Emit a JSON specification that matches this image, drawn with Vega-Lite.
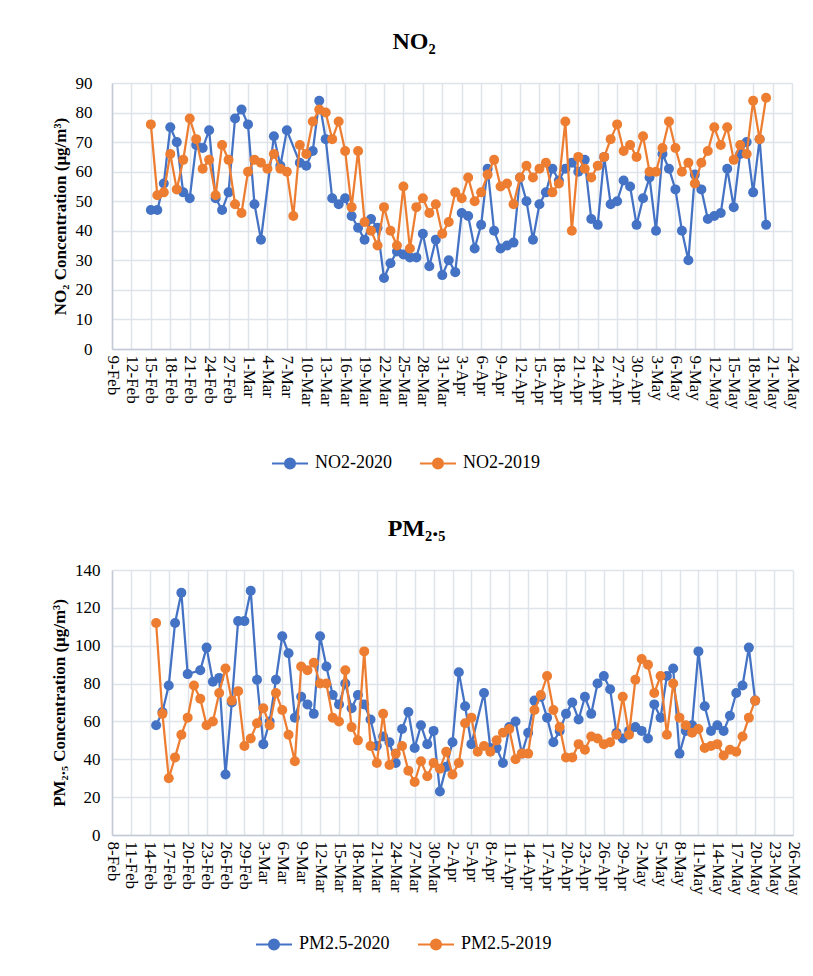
{
  "$schema": "https://vega.github.io/schema/vega-lite/v6.json",
  "background": "white",
  "padding": {"left": 50, "top": 30, "right": 0, "bottom": 0},
  "spacing": 44,
  "resolve": {"scale": {"color": "independent"}, "legend": {"color": "independent"}},
  "config": {
    "font": "Liberation Serif",
    "view": {"stroke": null},
    "axis": {"labelFont": "Liberation Serif", "labelFontSize": 17, "labelColor": "#000000", "titleFont": "Liberation Serif", "titleFontSize": 17, "titleFontWeight": "bold", "titleColor": "#000000", "gridColor": "#dfe3ea", "gridWidth": 1.5, "domainColor": "#c3cad6", "domainWidth": 1.5, "ticks": false},
    "legend": {"orient": "none", "direction": "horizontal", "title": null, "symbolType": "M-1,0L1,0M0.28,0A0.28,0.28,0,1,1,-0.28,0A0.28,0.28,0,1,1,0.28,0Z", "symbolSize": 1296, "symbolStrokeWidth": 2, "labelFont": "Liberation Serif", "labelFontSize": 18, "labelColor": "#000000", "labelOffset": 6, "columnPadding": 24},
    "title": {"font": "Liberation Serif", "fontSize": 24, "fontWeight": "bold", "color": "#000000", "anchor": "middle", "offset": 20}
  },
  "datasets": {
    "no2": [
      {"date":"2020-02-15","series":"NO2-2020","value":47},{"date":"2020-02-16","series":"NO2-2020","value":47},{"date":"2020-02-17","series":"NO2-2020","value":56},{"date":"2020-02-18","series":"NO2-2020","value":75},{"date":"2020-02-19","series":"NO2-2020","value":70},{"date":"2020-02-20","series":"NO2-2020","value":53},{"date":"2020-02-21","series":"NO2-2020","value":51},{"date":"2020-02-22","series":"NO2-2020","value":69},{"date":"2020-02-23","series":"NO2-2020","value":68},{"date":"2020-02-24","series":"NO2-2020","value":74},{"date":"2020-02-25","series":"NO2-2020","value":51},{"date":"2020-02-26","series":"NO2-2020","value":47},{"date":"2020-02-27","series":"NO2-2020","value":53},{"date":"2020-02-28","series":"NO2-2020","value":78},{"date":"2020-02-29","series":"NO2-2020","value":81},
      {"date":"2020-03-01","series":"NO2-2020","value":76},{"date":"2020-03-02","series":"NO2-2020","value":49},{"date":"2020-03-03","series":"NO2-2020","value":37},{"date":"2020-03-05","series":"NO2-2020","value":72},{"date":"2020-03-06","series":"NO2-2020","value":62},{"date":"2020-03-07","series":"NO2-2020","value":74},{"date":"2020-03-09","series":"NO2-2020","value":63},{"date":"2020-03-10","series":"NO2-2020","value":62},{"date":"2020-03-11","series":"NO2-2020","value":67},{"date":"2020-03-12","series":"NO2-2020","value":84},{"date":"2020-03-13","series":"NO2-2020","value":71},{"date":"2020-03-14","series":"NO2-2020","value":51},{"date":"2020-03-15","series":"NO2-2020","value":49},{"date":"2020-03-16","series":"NO2-2020","value":51},{"date":"2020-03-17","series":"NO2-2020","value":45},{"date":"2020-03-18","series":"NO2-2020","value":41},{"date":"2020-03-19","series":"NO2-2020","value":37},{"date":"2020-03-20","series":"NO2-2020","value":44},{"date":"2020-03-21","series":"NO2-2020","value":41},{"date":"2020-03-22","series":"NO2-2020","value":24},{"date":"2020-03-23","series":"NO2-2020","value":29},{"date":"2020-03-24","series":"NO2-2020","value":33},{"date":"2020-03-25","series":"NO2-2020","value":32},{"date":"2020-03-26","series":"NO2-2020","value":31},{"date":"2020-03-27","series":"NO2-2020","value":31},{"date":"2020-03-28","series":"NO2-2020","value":39},{"date":"2020-03-29","series":"NO2-2020","value":28},{"date":"2020-03-30","series":"NO2-2020","value":37},{"date":"2020-03-31","series":"NO2-2020","value":25},
      {"date":"2020-04-01","series":"NO2-2020","value":30},{"date":"2020-04-02","series":"NO2-2020","value":26},{"date":"2020-04-03","series":"NO2-2020","value":46},{"date":"2020-04-04","series":"NO2-2020","value":45},{"date":"2020-04-05","series":"NO2-2020","value":34},{"date":"2020-04-06","series":"NO2-2020","value":42},{"date":"2020-04-07","series":"NO2-2020","value":61},{"date":"2020-04-08","series":"NO2-2020","value":40},{"date":"2020-04-09","series":"NO2-2020","value":34},{"date":"2020-04-10","series":"NO2-2020","value":35},{"date":"2020-04-11","series":"NO2-2020","value":36},{"date":"2020-04-12","series":"NO2-2020","value":58},{"date":"2020-04-13","series":"NO2-2020","value":50},{"date":"2020-04-14","series":"NO2-2020","value":37},{"date":"2020-04-15","series":"NO2-2020","value":49},{"date":"2020-04-16","series":"NO2-2020","value":53},{"date":"2020-04-17","series":"NO2-2020","value":61},{"date":"2020-04-18","series":"NO2-2020","value":57},{"date":"2020-04-19","series":"NO2-2020","value":61},{"date":"2020-04-20","series":"NO2-2020","value":63},{"date":"2020-04-21","series":"NO2-2020","value":60},{"date":"2020-04-22","series":"NO2-2020","value":64},{"date":"2020-04-23","series":"NO2-2020","value":44},{"date":"2020-04-24","series":"NO2-2020","value":42},{"date":"2020-04-25","series":"NO2-2020","value":65},{"date":"2020-04-26","series":"NO2-2020","value":49},{"date":"2020-04-27","series":"NO2-2020","value":50},{"date":"2020-04-28","series":"NO2-2020","value":57},{"date":"2020-04-29","series":"NO2-2020","value":55},{"date":"2020-04-30","series":"NO2-2020","value":42},
      {"date":"2020-05-01","series":"NO2-2020","value":51},{"date":"2020-05-02","series":"NO2-2020","value":58},{"date":"2020-05-03","series":"NO2-2020","value":40},{"date":"2020-05-04","series":"NO2-2020","value":66},{"date":"2020-05-05","series":"NO2-2020","value":61},{"date":"2020-05-06","series":"NO2-2020","value":54},{"date":"2020-05-07","series":"NO2-2020","value":40},{"date":"2020-05-08","series":"NO2-2020","value":30},{"date":"2020-05-09","series":"NO2-2020","value":59},{"date":"2020-05-10","series":"NO2-2020","value":54},{"date":"2020-05-11","series":"NO2-2020","value":44},{"date":"2020-05-12","series":"NO2-2020","value":45},{"date":"2020-05-13","series":"NO2-2020","value":46},{"date":"2020-05-14","series":"NO2-2020","value":61},{"date":"2020-05-15","series":"NO2-2020","value":48},{"date":"2020-05-16","series":"NO2-2020","value":66},{"date":"2020-05-17","series":"NO2-2020","value":70},{"date":"2020-05-18","series":"NO2-2020","value":53},{"date":"2020-05-19","series":"NO2-2020","value":71},{"date":"2020-05-20","series":"NO2-2020","value":42},
      {"date":"2020-02-15","series":"NO2-2019","value":76},{"date":"2020-02-16","series":"NO2-2019","value":52},{"date":"2020-02-17","series":"NO2-2019","value":53},{"date":"2020-02-18","series":"NO2-2019","value":66},{"date":"2020-02-19","series":"NO2-2019","value":54},{"date":"2020-02-20","series":"NO2-2019","value":64},{"date":"2020-02-21","series":"NO2-2019","value":78},{"date":"2020-02-22","series":"NO2-2019","value":71},{"date":"2020-02-23","series":"NO2-2019","value":61},{"date":"2020-02-24","series":"NO2-2019","value":64},{"date":"2020-02-25","series":"NO2-2019","value":52},{"date":"2020-02-26","series":"NO2-2019","value":69},{"date":"2020-02-27","series":"NO2-2019","value":64},{"date":"2020-02-28","series":"NO2-2019","value":49},{"date":"2020-02-29","series":"NO2-2019","value":46},
      {"date":"2020-03-01","series":"NO2-2019","value":60},{"date":"2020-03-02","series":"NO2-2019","value":64},{"date":"2020-03-03","series":"NO2-2019","value":63},{"date":"2020-03-04","series":"NO2-2019","value":61},{"date":"2020-03-05","series":"NO2-2019","value":66},{"date":"2020-03-06","series":"NO2-2019","value":61},{"date":"2020-03-07","series":"NO2-2019","value":60},{"date":"2020-03-08","series":"NO2-2019","value":45},{"date":"2020-03-09","series":"NO2-2019","value":69},{"date":"2020-03-10","series":"NO2-2019","value":66},{"date":"2020-03-11","series":"NO2-2019","value":77},{"date":"2020-03-12","series":"NO2-2019","value":81},{"date":"2020-03-13","series":"NO2-2019","value":80},{"date":"2020-03-14","series":"NO2-2019","value":71},{"date":"2020-03-15","series":"NO2-2019","value":77},{"date":"2020-03-16","series":"NO2-2019","value":67},{"date":"2020-03-17","series":"NO2-2019","value":48},{"date":"2020-03-18","series":"NO2-2019","value":67},{"date":"2020-03-19","series":"NO2-2019","value":43},{"date":"2020-03-20","series":"NO2-2019","value":40},{"date":"2020-03-21","series":"NO2-2019","value":35},{"date":"2020-03-22","series":"NO2-2019","value":48},{"date":"2020-03-23","series":"NO2-2019","value":40},{"date":"2020-03-24","series":"NO2-2019","value":35},{"date":"2020-03-25","series":"NO2-2019","value":55},{"date":"2020-03-26","series":"NO2-2019","value":34},{"date":"2020-03-27","series":"NO2-2019","value":48},{"date":"2020-03-28","series":"NO2-2019","value":51},{"date":"2020-03-29","series":"NO2-2019","value":46},{"date":"2020-03-30","series":"NO2-2019","value":49},{"date":"2020-03-31","series":"NO2-2019","value":39},
      {"date":"2020-04-01","series":"NO2-2019","value":43},{"date":"2020-04-02","series":"NO2-2019","value":53},{"date":"2020-04-03","series":"NO2-2019","value":51},{"date":"2020-04-04","series":"NO2-2019","value":58},{"date":"2020-04-05","series":"NO2-2019","value":50},{"date":"2020-04-06","series":"NO2-2019","value":53},{"date":"2020-04-07","series":"NO2-2019","value":59},{"date":"2020-04-08","series":"NO2-2019","value":64},{"date":"2020-04-09","series":"NO2-2019","value":55},{"date":"2020-04-10","series":"NO2-2019","value":56},{"date":"2020-04-11","series":"NO2-2019","value":49},{"date":"2020-04-12","series":"NO2-2019","value":58},{"date":"2020-04-13","series":"NO2-2019","value":62},{"date":"2020-04-14","series":"NO2-2019","value":58},{"date":"2020-04-15","series":"NO2-2019","value":61},{"date":"2020-04-16","series":"NO2-2019","value":63},{"date":"2020-04-17","series":"NO2-2019","value":53},{"date":"2020-04-18","series":"NO2-2019","value":56},{"date":"2020-04-19","series":"NO2-2019","value":77},{"date":"2020-04-20","series":"NO2-2019","value":40},{"date":"2020-04-21","series":"NO2-2019","value":65},{"date":"2020-04-22","series":"NO2-2019","value":61},{"date":"2020-04-23","series":"NO2-2019","value":58},{"date":"2020-04-24","series":"NO2-2019","value":62},{"date":"2020-04-25","series":"NO2-2019","value":65},{"date":"2020-04-26","series":"NO2-2019","value":71},{"date":"2020-04-27","series":"NO2-2019","value":76},{"date":"2020-04-28","series":"NO2-2019","value":67},{"date":"2020-04-29","series":"NO2-2019","value":69},{"date":"2020-04-30","series":"NO2-2019","value":65},
      {"date":"2020-05-01","series":"NO2-2019","value":72},{"date":"2020-05-02","series":"NO2-2019","value":60},{"date":"2020-05-03","series":"NO2-2019","value":60},{"date":"2020-05-04","series":"NO2-2019","value":68},{"date":"2020-05-05","series":"NO2-2019","value":77},{"date":"2020-05-06","series":"NO2-2019","value":68},{"date":"2020-05-07","series":"NO2-2019","value":60},{"date":"2020-05-08","series":"NO2-2019","value":63},{"date":"2020-05-09","series":"NO2-2019","value":56},{"date":"2020-05-10","series":"NO2-2019","value":63},{"date":"2020-05-11","series":"NO2-2019","value":67},{"date":"2020-05-12","series":"NO2-2019","value":75},{"date":"2020-05-13","series":"NO2-2019","value":69},{"date":"2020-05-14","series":"NO2-2019","value":75},{"date":"2020-05-15","series":"NO2-2019","value":64},{"date":"2020-05-16","series":"NO2-2019","value":69},{"date":"2020-05-17","series":"NO2-2019","value":66},{"date":"2020-05-18","series":"NO2-2019","value":84},{"date":"2020-05-19","series":"NO2-2019","value":71},{"date":"2020-05-20","series":"NO2-2019","value":85}
    ],
    "pm": [
      {"date":"2020-02-15","series":"PM2.5-2020","value":58},{"date":"2020-02-16","series":"PM2.5-2020","value":65},{"date":"2020-02-17","series":"PM2.5-2020","value":79},{"date":"2020-02-18","series":"PM2.5-2020","value":112},{"date":"2020-02-19","series":"PM2.5-2020","value":128},{"date":"2020-02-20","series":"PM2.5-2020","value":85},{"date":"2020-02-22","series":"PM2.5-2020","value":87},{"date":"2020-02-23","series":"PM2.5-2020","value":99},{"date":"2020-02-24","series":"PM2.5-2020","value":81},{"date":"2020-02-25","series":"PM2.5-2020","value":83},{"date":"2020-02-26","series":"PM2.5-2020","value":32},{"date":"2020-02-27","series":"PM2.5-2020","value":70},{"date":"2020-02-28","series":"PM2.5-2020","value":113},{"date":"2020-02-29","series":"PM2.5-2020","value":113},
      {"date":"2020-03-01","series":"PM2.5-2020","value":129},{"date":"2020-03-02","series":"PM2.5-2020","value":82},{"date":"2020-03-03","series":"PM2.5-2020","value":48},{"date":"2020-03-04","series":"PM2.5-2020","value":60},{"date":"2020-03-05","series":"PM2.5-2020","value":82},{"date":"2020-03-06","series":"PM2.5-2020","value":105},{"date":"2020-03-07","series":"PM2.5-2020","value":96},{"date":"2020-03-08","series":"PM2.5-2020","value":62},{"date":"2020-03-09","series":"PM2.5-2020","value":73},{"date":"2020-03-10","series":"PM2.5-2020","value":69},{"date":"2020-03-11","series":"PM2.5-2020","value":64},{"date":"2020-03-12","series":"PM2.5-2020","value":105},{"date":"2020-03-13","series":"PM2.5-2020","value":89},{"date":"2020-03-14","series":"PM2.5-2020","value":74},{"date":"2020-03-15","series":"PM2.5-2020","value":69},{"date":"2020-03-16","series":"PM2.5-2020","value":80},{"date":"2020-03-17","series":"PM2.5-2020","value":67},{"date":"2020-03-18","series":"PM2.5-2020","value":74},{"date":"2020-03-19","series":"PM2.5-2020","value":69},{"date":"2020-03-20","series":"PM2.5-2020","value":61},{"date":"2020-03-21","series":"PM2.5-2020","value":47},{"date":"2020-03-22","series":"PM2.5-2020","value":52},{"date":"2020-03-23","series":"PM2.5-2020","value":49},{"date":"2020-03-24","series":"PM2.5-2020","value":38},{"date":"2020-03-25","series":"PM2.5-2020","value":56},{"date":"2020-03-26","series":"PM2.5-2020","value":65},{"date":"2020-03-27","series":"PM2.5-2020","value":46},{"date":"2020-03-28","series":"PM2.5-2020","value":58},{"date":"2020-03-29","series":"PM2.5-2020","value":48},{"date":"2020-03-30","series":"PM2.5-2020","value":55},{"date":"2020-03-31","series":"PM2.5-2020","value":23},
      {"date":"2020-04-01","series":"PM2.5-2020","value":36},{"date":"2020-04-02","series":"PM2.5-2020","value":49},{"date":"2020-04-03","series":"PM2.5-2020","value":86},{"date":"2020-04-04","series":"PM2.5-2020","value":68},{"date":"2020-04-05","series":"PM2.5-2020","value":48},{"date":"2020-04-07","series":"PM2.5-2020","value":75},{"date":"2020-04-08","series":"PM2.5-2020","value":46},{"date":"2020-04-09","series":"PM2.5-2020","value":46},{"date":"2020-04-10","series":"PM2.5-2020","value":38},{"date":"2020-04-11","series":"PM2.5-2020","value":57},{"date":"2020-04-12","series":"PM2.5-2020","value":60},{"date":"2020-04-13","series":"PM2.5-2020","value":43},{"date":"2020-04-14","series":"PM2.5-2020","value":54},{"date":"2020-04-15","series":"PM2.5-2020","value":71},{"date":"2020-04-16","series":"PM2.5-2020","value":73},{"date":"2020-04-17","series":"PM2.5-2020","value":62},{"date":"2020-04-18","series":"PM2.5-2020","value":49},{"date":"2020-04-19","series":"PM2.5-2020","value":55},{"date":"2020-04-20","series":"PM2.5-2020","value":64},{"date":"2020-04-21","series":"PM2.5-2020","value":70},{"date":"2020-04-22","series":"PM2.5-2020","value":61},{"date":"2020-04-23","series":"PM2.5-2020","value":73},{"date":"2020-04-24","series":"PM2.5-2020","value":64},{"date":"2020-04-25","series":"PM2.5-2020","value":80},{"date":"2020-04-26","series":"PM2.5-2020","value":84},{"date":"2020-04-27","series":"PM2.5-2020","value":77},{"date":"2020-04-28","series":"PM2.5-2020","value":54},{"date":"2020-04-29","series":"PM2.5-2020","value":51},{"date":"2020-04-30","series":"PM2.5-2020","value":55},
      {"date":"2020-05-01","series":"PM2.5-2020","value":57},{"date":"2020-05-02","series":"PM2.5-2020","value":55},{"date":"2020-05-03","series":"PM2.5-2020","value":51},{"date":"2020-05-04","series":"PM2.5-2020","value":69},{"date":"2020-05-05","series":"PM2.5-2020","value":62},{"date":"2020-05-06","series":"PM2.5-2020","value":84},{"date":"2020-05-07","series":"PM2.5-2020","value":88},{"date":"2020-05-08","series":"PM2.5-2020","value":43},{"date":"2020-05-09","series":"PM2.5-2020","value":55},{"date":"2020-05-10","series":"PM2.5-2020","value":58},{"date":"2020-05-11","series":"PM2.5-2020","value":97},{"date":"2020-05-12","series":"PM2.5-2020","value":68},{"date":"2020-05-13","series":"PM2.5-2020","value":55},{"date":"2020-05-14","series":"PM2.5-2020","value":58},{"date":"2020-05-15","series":"PM2.5-2020","value":55},{"date":"2020-05-16","series":"PM2.5-2020","value":63},{"date":"2020-05-17","series":"PM2.5-2020","value":75},{"date":"2020-05-18","series":"PM2.5-2020","value":79},{"date":"2020-05-19","series":"PM2.5-2020","value":99},{"date":"2020-05-20","series":"PM2.5-2020","value":71},
      {"date":"2020-02-15","series":"PM2.5-2019","value":112},{"date":"2020-02-16","series":"PM2.5-2019","value":64},{"date":"2020-02-17","series":"PM2.5-2019","value":30},{"date":"2020-02-18","series":"PM2.5-2019","value":41},{"date":"2020-02-19","series":"PM2.5-2019","value":53},{"date":"2020-02-20","series":"PM2.5-2019","value":62},{"date":"2020-02-21","series":"PM2.5-2019","value":79},{"date":"2020-02-22","series":"PM2.5-2019","value":72},{"date":"2020-02-23","series":"PM2.5-2019","value":58},{"date":"2020-02-24","series":"PM2.5-2019","value":60},{"date":"2020-02-25","series":"PM2.5-2019","value":75},{"date":"2020-02-26","series":"PM2.5-2019","value":88},{"date":"2020-02-27","series":"PM2.5-2019","value":71},{"date":"2020-02-28","series":"PM2.5-2019","value":76},{"date":"2020-02-29","series":"PM2.5-2019","value":47},
      {"date":"2020-03-01","series":"PM2.5-2019","value":51},{"date":"2020-03-02","series":"PM2.5-2019","value":59},{"date":"2020-03-03","series":"PM2.5-2019","value":67},{"date":"2020-03-04","series":"PM2.5-2019","value":58},{"date":"2020-03-05","series":"PM2.5-2019","value":75},{"date":"2020-03-06","series":"PM2.5-2019","value":66},{"date":"2020-03-07","series":"PM2.5-2019","value":53},{"date":"2020-03-08","series":"PM2.5-2019","value":39},{"date":"2020-03-09","series":"PM2.5-2019","value":89},{"date":"2020-03-10","series":"PM2.5-2019","value":87},{"date":"2020-03-11","series":"PM2.5-2019","value":91},{"date":"2020-03-12","series":"PM2.5-2019","value":80},{"date":"2020-03-13","series":"PM2.5-2019","value":80},{"date":"2020-03-14","series":"PM2.5-2019","value":62},{"date":"2020-03-15","series":"PM2.5-2019","value":60},{"date":"2020-03-16","series":"PM2.5-2019","value":87},{"date":"2020-03-17","series":"PM2.5-2019","value":57},{"date":"2020-03-18","series":"PM2.5-2019","value":50},{"date":"2020-03-19","series":"PM2.5-2019","value":97},{"date":"2020-03-20","series":"PM2.5-2019","value":47},{"date":"2020-03-21","series":"PM2.5-2019","value":38},{"date":"2020-03-22","series":"PM2.5-2019","value":64},{"date":"2020-03-23","series":"PM2.5-2019","value":37},{"date":"2020-03-24","series":"PM2.5-2019","value":43},{"date":"2020-03-25","series":"PM2.5-2019","value":47},{"date":"2020-03-26","series":"PM2.5-2019","value":34},{"date":"2020-03-27","series":"PM2.5-2019","value":28},{"date":"2020-03-28","series":"PM2.5-2019","value":39},{"date":"2020-03-29","series":"PM2.5-2019","value":31},{"date":"2020-03-30","series":"PM2.5-2019","value":38},{"date":"2020-03-31","series":"PM2.5-2019","value":35},
      {"date":"2020-04-01","series":"PM2.5-2019","value":44},{"date":"2020-04-02","series":"PM2.5-2019","value":32},{"date":"2020-04-03","series":"PM2.5-2019","value":38},{"date":"2020-04-04","series":"PM2.5-2019","value":59},{"date":"2020-04-05","series":"PM2.5-2019","value":62},{"date":"2020-04-06","series":"PM2.5-2019","value":44},{"date":"2020-04-07","series":"PM2.5-2019","value":47},{"date":"2020-04-08","series":"PM2.5-2019","value":44},{"date":"2020-04-09","series":"PM2.5-2019","value":50},{"date":"2020-04-10","series":"PM2.5-2019","value":54},{"date":"2020-04-11","series":"PM2.5-2019","value":56},{"date":"2020-04-12","series":"PM2.5-2019","value":40},{"date":"2020-04-13","series":"PM2.5-2019","value":43},{"date":"2020-04-14","series":"PM2.5-2019","value":43},{"date":"2020-04-15","series":"PM2.5-2019","value":66},{"date":"2020-04-16","series":"PM2.5-2019","value":74},{"date":"2020-04-17","series":"PM2.5-2019","value":84},{"date":"2020-04-18","series":"PM2.5-2019","value":66},{"date":"2020-04-19","series":"PM2.5-2019","value":57},{"date":"2020-04-20","series":"PM2.5-2019","value":41},{"date":"2020-04-21","series":"PM2.5-2019","value":41},{"date":"2020-04-22","series":"PM2.5-2019","value":48},{"date":"2020-04-23","series":"PM2.5-2019","value":45},{"date":"2020-04-24","series":"PM2.5-2019","value":52},{"date":"2020-04-25","series":"PM2.5-2019","value":51},{"date":"2020-04-26","series":"PM2.5-2019","value":48},{"date":"2020-04-27","series":"PM2.5-2019","value":49},{"date":"2020-04-28","series":"PM2.5-2019","value":53},{"date":"2020-04-29","series":"PM2.5-2019","value":73},{"date":"2020-04-30","series":"PM2.5-2019","value":53},
      {"date":"2020-05-01","series":"PM2.5-2019","value":82},{"date":"2020-05-02","series":"PM2.5-2019","value":93},{"date":"2020-05-03","series":"PM2.5-2019","value":90},{"date":"2020-05-04","series":"PM2.5-2019","value":75},{"date":"2020-05-05","series":"PM2.5-2019","value":84},{"date":"2020-05-06","series":"PM2.5-2019","value":53},{"date":"2020-05-07","series":"PM2.5-2019","value":80},{"date":"2020-05-08","series":"PM2.5-2019","value":62},{"date":"2020-05-09","series":"PM2.5-2019","value":58},{"date":"2020-05-10","series":"PM2.5-2019","value":54},{"date":"2020-05-11","series":"PM2.5-2019","value":56},{"date":"2020-05-12","series":"PM2.5-2019","value":46},{"date":"2020-05-13","series":"PM2.5-2019","value":47},{"date":"2020-05-14","series":"PM2.5-2019","value":48},{"date":"2020-05-15","series":"PM2.5-2019","value":42},{"date":"2020-05-16","series":"PM2.5-2019","value":45},{"date":"2020-05-17","series":"PM2.5-2019","value":44},{"date":"2020-05-18","series":"PM2.5-2019","value":52},{"date":"2020-05-19","series":"PM2.5-2019","value":62},{"date":"2020-05-20","series":"PM2.5-2019","value":71}
    ]
  },
  "vconcat": [
    {
      "width": 680,
      "height": 266,
      "title": {"text": "NO₂", "dx": -38},
      "data": {"name": "no2"},
      "encoding": {
        "x": {"field": "date", "type": "temporal",
          "scale": {"type": "utc", "domain": [{"year":2020,"month":2,"date":9,"utc":true},{"year":2020,"month":5,"date":24,"utc":true}]},
          "axis": {"title": null, "format": "%-d-%b", "labelAngle": 90, "labelPadding": 6, "grid": true,
            "values": [{"year":2020,"month":2,"date":9,"utc":true},{"year":2020,"month":2,"date":12,"utc":true},{"year":2020,"month":2,"date":15,"utc":true},{"year":2020,"month":2,"date":18,"utc":true},{"year":2020,"month":2,"date":21,"utc":true},{"year":2020,"month":2,"date":24,"utc":true},{"year":2020,"month":2,"date":27,"utc":true},{"year":2020,"month":3,"date":1,"utc":true},{"year":2020,"month":3,"date":4,"utc":true},{"year":2020,"month":3,"date":7,"utc":true},{"year":2020,"month":3,"date":10,"utc":true},{"year":2020,"month":3,"date":13,"utc":true},{"year":2020,"month":3,"date":16,"utc":true},{"year":2020,"month":3,"date":19,"utc":true},{"year":2020,"month":3,"date":22,"utc":true},{"year":2020,"month":3,"date":25,"utc":true},{"year":2020,"month":3,"date":28,"utc":true},{"year":2020,"month":3,"date":31,"utc":true},{"year":2020,"month":4,"date":3,"utc":true},{"year":2020,"month":4,"date":6,"utc":true},{"year":2020,"month":4,"date":9,"utc":true},{"year":2020,"month":4,"date":12,"utc":true},{"year":2020,"month":4,"date":15,"utc":true},{"year":2020,"month":4,"date":18,"utc":true},{"year":2020,"month":4,"date":21,"utc":true},{"year":2020,"month":4,"date":24,"utc":true},{"year":2020,"month":4,"date":27,"utc":true},{"year":2020,"month":4,"date":30,"utc":true},{"year":2020,"month":5,"date":3,"utc":true},{"year":2020,"month":5,"date":6,"utc":true},{"year":2020,"month":5,"date":9,"utc":true},{"year":2020,"month":5,"date":12,"utc":true},{"year":2020,"month":5,"date":15,"utc":true},{"year":2020,"month":5,"date":18,"utc":true},{"year":2020,"month":5,"date":21,"utc":true},{"year":2020,"month":5,"date":24,"utc":true}]}},
        "y": {"field": "value", "type": "quantitative", "scale": {"domain": [0, 90]},
          "axis": {"title": "NO₂ Concentration (μg/m³)", "values": [0,10,20,30,40,50,60,70,80,90], "grid": true, "labelPadding": 20, "titlePadding": 6}},
        "color": {"field": "series", "type": "nominal",
          "scale": {"domain": ["NO2-2020", "NO2-2019"], "range": ["#4472C4", "#ED7D31"]},
          "legend": {"legendX": 159, "legendY": 361,
            "encode": {"symbols": {"update": {"fill": {"signal": "indexof(datum.value,'2020')>=0 ? '#4472C4' : '#ED7D31'"}, "stroke": {"signal": "indexof(datum.value,'2020')>=0 ? '#4472C4' : '#ED7D31'"}, "opacity": {"value": 1}}}}}}
      },
      "layer": [
        {"transform": [{"filter": "datum.series === 'NO2-2020'"}], "mark": {"type": "line", "strokeWidth": 2.25}},
        {"transform": [{"filter": "datum.series === 'NO2-2020'"}], "mark": {"type": "point", "filled": true, "size": 100, "opacity": 1}},
        {"transform": [{"filter": "datum.series === 'NO2-2019'"}], "mark": {"type": "line", "strokeWidth": 2.25}},
        {"transform": [{"filter": "datum.series === 'NO2-2019'"}], "mark": {"type": "point", "filled": true, "size": 100, "opacity": 1}}
      ]
    },
    {
      "width": 681,
      "height": 265,
      "title": {"text": "PM₂.₅", "dx": -36},
      "data": {"name": "pm"},
      "encoding": {
        "x": {"field": "date", "type": "temporal",
          "scale": {"type": "utc", "domain": [{"year":2020,"month":2,"date":8,"utc":true},{"year":2020,"month":5,"date":26,"utc":true}]},
          "axis": {"title": null, "format": "%-d-%b", "labelAngle": 90, "labelPadding": 6, "grid": true,
            "values": [{"year":2020,"month":2,"date":8,"utc":true},{"year":2020,"month":2,"date":11,"utc":true},{"year":2020,"month":2,"date":14,"utc":true},{"year":2020,"month":2,"date":17,"utc":true},{"year":2020,"month":2,"date":20,"utc":true},{"year":2020,"month":2,"date":23,"utc":true},{"year":2020,"month":2,"date":26,"utc":true},{"year":2020,"month":2,"date":29,"utc":true},{"year":2020,"month":3,"date":3,"utc":true},{"year":2020,"month":3,"date":6,"utc":true},{"year":2020,"month":3,"date":9,"utc":true},{"year":2020,"month":3,"date":12,"utc":true},{"year":2020,"month":3,"date":15,"utc":true},{"year":2020,"month":3,"date":18,"utc":true},{"year":2020,"month":3,"date":21,"utc":true},{"year":2020,"month":3,"date":24,"utc":true},{"year":2020,"month":3,"date":27,"utc":true},{"year":2020,"month":3,"date":30,"utc":true},{"year":2020,"month":4,"date":2,"utc":true},{"year":2020,"month":4,"date":5,"utc":true},{"year":2020,"month":4,"date":8,"utc":true},{"year":2020,"month":4,"date":11,"utc":true},{"year":2020,"month":4,"date":14,"utc":true},{"year":2020,"month":4,"date":17,"utc":true},{"year":2020,"month":4,"date":20,"utc":true},{"year":2020,"month":4,"date":23,"utc":true},{"year":2020,"month":4,"date":26,"utc":true},{"year":2020,"month":4,"date":29,"utc":true},{"year":2020,"month":5,"date":2,"utc":true},{"year":2020,"month":5,"date":5,"utc":true},{"year":2020,"month":5,"date":8,"utc":true},{"year":2020,"month":5,"date":11,"utc":true},{"year":2020,"month":5,"date":14,"utc":true},{"year":2020,"month":5,"date":17,"utc":true},{"year":2020,"month":5,"date":20,"utc":true},{"year":2020,"month":5,"date":23,"utc":true},{"year":2020,"month":5,"date":26,"utc":true}]}},
        "y": {"field": "value", "type": "quantitative", "scale": {"domain": [0, 140]},
          "axis": {"title": "PM₂.₅ Concentration (μg/m³)", "values": [0,20,40,60,80,100,120,140], "grid": true, "labelPadding": 12, "titlePadding": 6}},
        "color": {"field": "series", "type": "nominal",
          "scale": {"domain": ["PM2.5-2020", "PM2.5-2019"], "range": ["#4472C4", "#ED7D31"]},
          "legend": {"legendX": 143, "legendY": 355,
            "encode": {"symbols": {"update": {"fill": {"signal": "indexof(datum.value,'2020')>=0 ? '#4472C4' : '#ED7D31'"}, "stroke": {"signal": "indexof(datum.value,'2020')>=0 ? '#4472C4' : '#ED7D31'"}, "opacity": {"value": 1}}}}}}
      },
      "layer": [
        {"transform": [{"filter": "datum.series === 'PM2.5-2020'"}], "mark": {"type": "line", "strokeWidth": 2.25}},
        {"transform": [{"filter": "datum.series === 'PM2.5-2020'"}], "mark": {"type": "point", "filled": true, "size": 100, "opacity": 1}},
        {"transform": [{"filter": "datum.series === 'PM2.5-2019'"}], "mark": {"type": "line", "strokeWidth": 2.25}},
        {"transform": [{"filter": "datum.series === 'PM2.5-2019'"}], "mark": {"type": "point", "filled": true, "size": 100, "opacity": 1}}
      ]
    }
  ]
}
